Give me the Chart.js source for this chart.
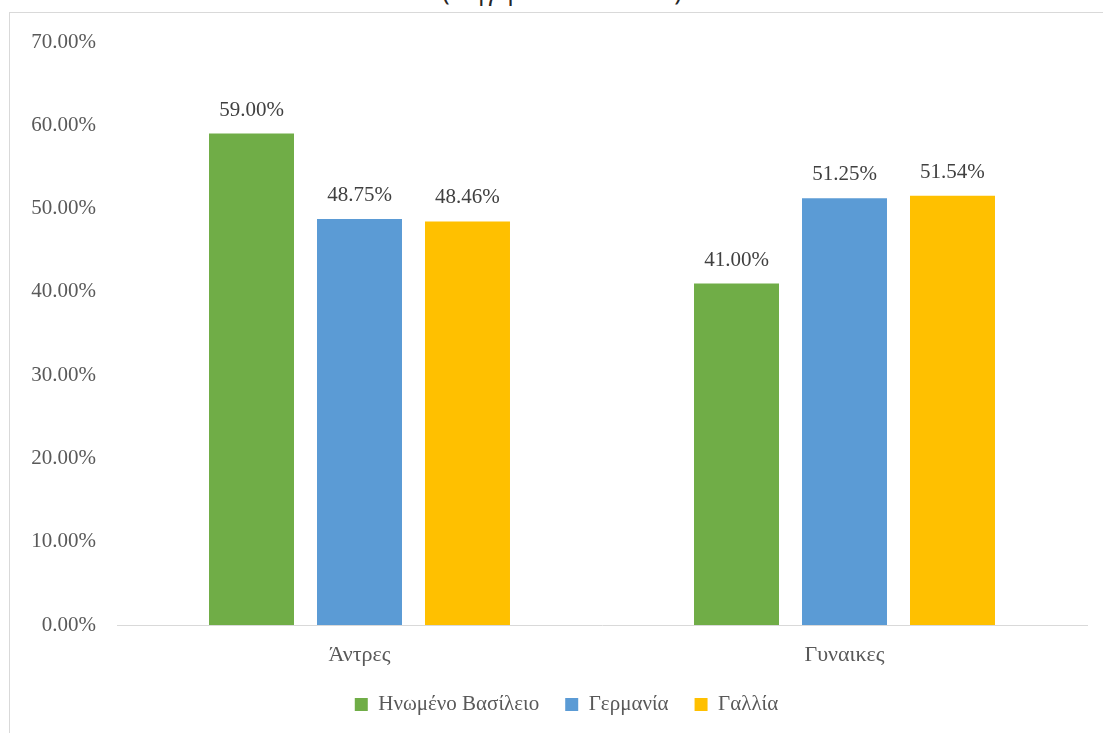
<!DOCTYPE html>
<html>
<head>
<meta charset="utf-8">
<script src="https://cdn.jsdelivr.net/npm/chart.js@4/dist/chart.umd.min.js"></script>
<style>
    html, body { margin: 0; padding: 0; background: #fff; overflow: hidden; }
    body { width: 1103px; height: 733px; position: relative; }
    #title {
        position: absolute; left: 0; width: 1124px; top: -25px;
        text-align: center; font-family: "Open Sans", sans-serif; font-size: 26px;
        line-height: 30px; color: #262626;
    }
    #frame {
        position: absolute; left: 9px; top: 12px; width: 1094px; height: 721px;
        border-left: 1px solid #d9d9d9; border-top: 1px solid #d9d9d9; box-sizing: border-box;
    }
    #wrap { position: absolute; left: 0; top: 0; width: 1093px; height: 720px; }
</style>
</head>
<body>
<div id="title">(Πηγή: statista.com)</div>
<div id="frame"><div id="wrap"><canvas id="genderChart"></canvas></div></div>
<script>
const categories = ['Άντρες', 'Γυναικες'];
const seriesNames = ['Ηνωμένο Βασίλειο', 'Γερμανία', 'Γαλλία'];
const ukValues = [59.00, 41.00];
const germanyValues = [48.75, 51.25];
const franceValues = [48.46, 51.54];
const yTicks = [0, 10, 20, 30, 40, 50, 60, 70];

const seriesColors = ['#70AD47', '#5B9BD5', '#FFC000'];
const FONT = '"Liberation Serif", "Times New Roman", serif';

const pct = v => v.toFixed(2) + '%';

// value labels above each bar
const barLabels = {
    id: 'barLabels',
    afterDatasetsDraw(chart) {
        const ctx = chart.ctx;
        ctx.save();
        ctx.font = '21px ' + FONT;
        ctx.fillStyle = '#404040';
        ctx.textAlign = 'center';
        ctx.textBaseline = 'alphabetic';
        chart.data.datasets.forEach((ds, i) => {
            chart.getDatasetMeta(i).data.forEach((bar, j) => {
                ctx.fillText(pct(ds.data[j]), bar.x, bar.y - 18);
            });
        });
        ctx.restore();
    }
};

// legend is centred on the whole chart box, not the padded area
const legendShift = {
    id: 'legendShift',
    afterLayout(chart) {
        const lg = chart.legend;
        lg.left += 18;
        lg.right += 18;
    }
};

const ctx = document.getElementById('genderChart').getContext('2d');
new Chart(ctx, {
    type: 'bar',
    data: {
        labels: categories,
        datasets: [ukValues, germanyValues, franceValues].map((vals, i) => ({
            label: seriesNames[i],
            data: vals,
            backgroundColor: seriesColors[i],
            borderWidth: 0,
            categoryPercentage: 0.668,
            barPercentage: 0.787
        }))
    },
    options: {
        responsive: true,
        maintainAspectRatio: false,
        animation: false,
        layout: { padding: { top: 29, right: 16, left: 0, bottom: 8 } },
        plugins: {
            legend: {
                position: 'bottom',
                labels: {
                    color: '#595959',
                    font: { family: FONT, size: 21 },
                    boxWidth: 13,
                    boxHeight: 13,
                    padding: 26
                }
            },
            tooltip: { enabled: false }
        },
        scales: {
            x: {
                grid: { display: false, drawTicks: false },
                border: { display: true, color: '#d9d9d9', width: 1 },
                ticks: {
                    color: '#595959',
                    font: { family: FONT, size: 22 },
                    padding: 17
                },
                afterFit: scale => { scale.height = 43; }
            },
            y: {
                min: 0,
                max: 70,
                grid: { display: false, drawTicks: false },
                border: { display: false },
                afterBuildTicks: scale => { scale.ticks = yTicks.map(v => ({ value: v })); },
                ticks: {
                    color: '#595959',
                    font: { family: FONT, size: 21 },
                    padding: 21,
                    callback: v => pct(v)
                },
                afterFit: scale => {
                    scale.width = 107;
                    scale.paddingTop = 0;
                    scale.paddingBottom = 0;
                }
            }
        }
    },
    plugins: [barLabels, legendShift]
});
</script>
</body>
</html>
